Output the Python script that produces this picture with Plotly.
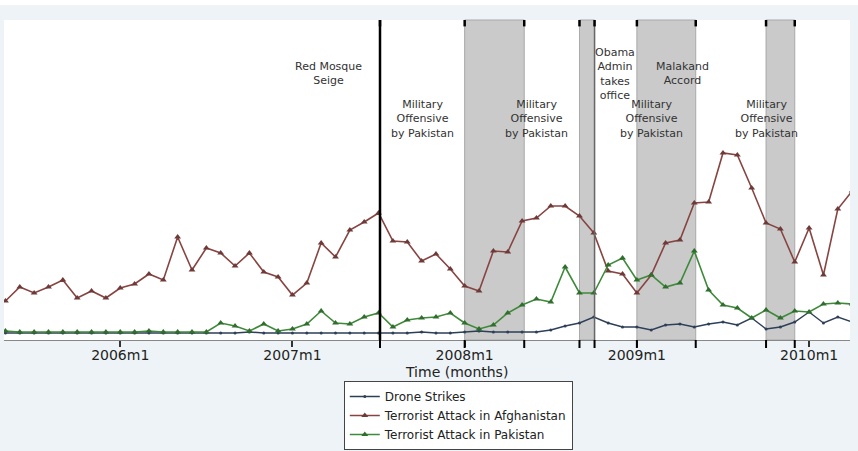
import plotly.graph_objects as go

# Stata-style monthly dates (%tm): 544 = 2005m5 ... 603 = 2010m4
months = list(range(544, 604))

drone = [7, 7, 7, 7, 7, 7, 7, 7, 7, 7, 7, 7, 7, 7, 7, 7, 7, 8, 7, 7,
         7, 7, 7, 7, 7, 7, 7, 7, 7, 8, 7, 7, 8, 9, 8, 8, 8, 8, 10, 14,
         17, 23, 17, 13, 13, 10, 15, 16, 13, 16, 18, 15, 22, 11, 13, 18, 28, 17, 23, 18]

afghanistan = [39, 53, 47, 53, 60, 42, 49, 42, 52, 56, 66, 60, 103, 70, 92, 87, 74, 87, 68, 63,
               45, 57, 97, 83, 110, 118, 127, 99, 98, 79, 86, 71, 54, 49, 89, 88, 119, 122, 134, 134,
               124, 107, 69, 66, 47, 65, 97, 100, 137, 138, 187, 185, 152, 117, 111, 78, 112, 65, 131, 149]

pakistan = [9, 8, 8, 8, 8, 8, 8, 8, 8, 8, 9, 8, 8, 8, 8, 17, 14, 9, 16, 9,
            11, 16, 29, 17, 16, 23, 27, 13, 20, 22, 23, 27, 17, 11, 15, 27, 35, 41, 38, 73,
            47, 47, 75, 82, 60, 65, 53, 57, 89, 50, 35, 32, 22, 30, 22, 29, 28, 36, 37, 36]

tick_vals = [552, 564, 576, 588, 600]
tick_text = ["2006m1", "2007m1", "2008m1", "2009m1", "2010m1"]

red_mosque = 570.1
obama = 585.05
bands = [(576, 580.15), (584, 585.05), (588, 592.1), (597, 599)]

# event labels: x in months, text, vertical centre in pixel rows
labels = [
    (566.5, "Red Mosque<br>Seige", 73),
    (573.05, "Military<br>Offensive<br>by Pakistan", 119),
    (581.0, "Military<br>Offensive<br>by Pakistan", 119),
    (586.5, "Obama<br>Admin<br>takes<br>office", 74),
    (591.2, "Malakand<br>Accord", 73),
    (589.0, "Military<br>Offensive<br>by Pakistan", 119),
    (597.0, "Military<br>Offensive<br>by Pakistan", 119),
]

FONT = "DejaVu Sans"
TOP, BOTTOM = 20, 340  # pixel rows of plot area

def py(pix):
    return (BOTTOM - pix) / (BOTTOM - TOP)

fig = go.Figure()
fig.add_scatter(x=months, y=drone, mode="lines+markers", name="Drone Strikes",
                line=dict(color="#2e3f58", width=1.4),
                marker=dict(symbol="circle", size=3, color="#2e3f58"))
fig.add_scatter(x=months, y=afghanistan, mode="lines+markers", name="Terrorist Attack in Afghanistan",
                line=dict(color="#874441", width=1.6),
                marker=dict(symbol="triangle-up", size=6, color="#6e3a38"))
fig.add_scatter(x=months, y=pakistan, mode="lines+markers", name="Terrorist Attack in Pakistan",
                line=dict(color="#3f8a3a", width=1.6),
                marker=dict(symbol="triangle-up", size=6, color="#2f6e2c"))

shapes = []
for x0, x1 in bands:
    shapes.append(dict(type="rect", xref="x", yref="paper", x0=x0, x1=x1, y0=0, y1=1,
                       fillcolor="#cacaca", line=dict(color="#a8a8a8", width=1), layer="below"))
shapes.append(dict(type="line", xref="x", yref="paper", x0=red_mosque, x1=red_mosque, y0=0, y1=1,
                   line=dict(color="black", width=2.5)))
shapes.append(dict(type="line", xref="x", yref="paper", x0=obama, x1=obama, y0=0, y1=1,
                   line=dict(color="#666", width=1.5)))
edges = [red_mosque] + [e for b in bands for e in b]
for e in edges:
    shapes.append(dict(type="line", xref="x", yref="paper", x0=e, x1=e, y0=0.98, y1=1,
                       line=dict(color="black", width=2.5)))
    shapes.append(dict(type="line", xref="x", yref="paper", x0=e, x1=e, y0=0, y1=-0.025,
                       line=dict(color="black", width=2)))
# white strip above the graph region
shapes.append(dict(type="rect", xref="paper", yref="paper", x0=-0.01, x1=1.02,
                   y0=py(5), y1=py(-5), fillcolor="white", line=dict(width=0)))

annotations = []
for x, t, yc in labels:
    annotations.append(dict(x=x, y=py(yc), xref="x", yref="paper", text=t,
                            showarrow=False, xanchor="center", yanchor="middle",
                            font=dict(family=FONT, size=11, color="#333")))
annotations.append(dict(x=0.535, y=py(372), xref="paper", yref="paper", text="Time (months)",
                        showarrow=False, xanchor="center", yanchor="middle",
                        font=dict(family=FONT, size=14, color="#222")))

fig.update_layout(
    width=858, height=451,
    margin=dict(l=4, r=8, t=TOP, b=451 - BOTTOM, autoexpand=False),
    paper_bgcolor="#edf3f6",
    plot_bgcolor="white",
    font=dict(family=FONT, color="#222"),
    shapes=shapes,
    annotations=annotations,
    showlegend=True,
    legend=dict(x=0.537, y=py(381), xanchor="center", yanchor="top",
                bgcolor="white", bordercolor="#444", borderwidth=1,
                font=dict(family=FONT, size=12, color="#222"), tracegroupgap=0),
)
fig.update_xaxes(range=[543.9, 602.85], tickvals=tick_vals, ticktext=tick_text,
                 showgrid=False, zeroline=False, showline=True, linecolor="#888", linewidth=1,
                 ticks="outside", ticklen=6, tickwidth=1.5, tickcolor="#333",
                 ticklabelstandoff=-4,
                 tickfont=dict(family=FONT, size=14, color="#222"))
fig.update_yaxes(range=[0, 320], visible=False)

# drop the default body margin so the figure fills the window
fig.write_html("out.html", config={"displayModeBar": False},
               post_script="document.body.style.margin='0';")
